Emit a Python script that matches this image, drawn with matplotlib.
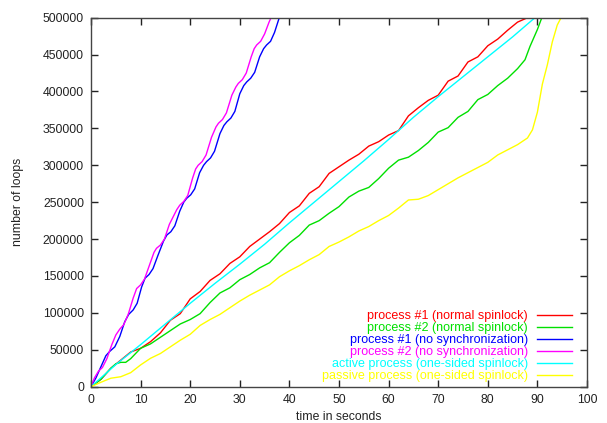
import matplotlib
matplotlib.use("Agg")
import matplotlib.pyplot as plt

plt.rcParams['font.family'] = ['Liberation Sans', 'DejaVu Sans']

# process #1 (normal spinlock)
red_t = [0, 2, 4, 6, 8, 10, 12, 14, 16, 18, 20, 22, 24, 26, 28, 30, 32, 34, 36, 38, 40,
         42, 44, 46, 48, 50, 52, 54, 56, 58, 60, 62, 64, 66, 68, 70, 72, 74, 76, 78, 80,
         82, 84, 86, 88, 89]
red_v = [0, 10000, 25000, 36000, 47000, 52000, 61000, 73000, 90000, 99000, 119000, 129000,
         144000, 153000, 167000, 176000, 190000, 200000, 210000, 221000, 236000, 245000,
         262000, 271000, 289000, 298000, 307000, 315000, 326000, 332000, 341000, 347000,
         367000, 378000, 388000, 395000, 414000, 421000, 440000, 447000, 462000, 471000,
         483000, 494000, 500000, 503000]

# process #2 (normal spinlock)
green_t = [0, 2, 4, 5, 6, 7, 8, 10, 12, 14, 16, 18, 20, 22, 24, 26, 28, 30, 32, 34, 36,
           38, 40, 42, 44, 46, 48, 50, 52, 54, 56, 58, 60, 62, 64, 66, 68, 70, 72, 74, 76,
           78, 80, 82, 84, 86, 87.5, 88.5, 90, 91]
green_v = [0, 10000, 25000, 31000, 33000, 33000, 38000, 52000, 58000, 67000, 76000, 85000,
           91000, 99000, 114000, 127000, 134000, 145000, 152000, 161000, 168000, 182000,
           195000, 205000, 219000, 225000, 235000, 244000, 257000, 265000, 270000, 282000,
           296000, 307000, 311000, 320000, 331000, 345000, 351000, 365000, 373000, 389000,
           396000, 408000, 418000, 431000, 443000, 461000, 484000, 502000]

# process #1 (no synchronization)
blue_t = [0, 1.0, 2.0, 3.0, 3.8, 4.8, 5.8, 6.8, 7.6, 8.5, 9.3, 10.2, 10.9, 11.7, 12.5,
          13.5, 14.6, 15.3, 16.1, 16.9, 17.9, 18.7, 19.3, 20.1, 20.9, 21.9, 22.7, 23.3,
          24.1, 24.9, 26.0, 26.8, 27.4, 28.2, 29.0, 30.0, 30.8, 31.4, 32.2, 33.0, 34.0,
          34.8, 35.4, 36.2, 37.0, 38.1]
blue_v = [0, 12000, 27000, 42000, 48000, 54000, 68000, 88000, 98000, 104000, 113000,
          135000, 147000, 152000, 160000, 178000, 197000, 205600, 210000, 218000, 238000,
          250000, 255300, 260000, 268000, 290000, 300000, 305000, 310000, 319000, 343000,
          354000, 359000, 364000, 373000, 397000, 408000, 413000, 418000, 426000, 447000,
          458000, 463000, 468000, 480000, 503000]

# process #2 (no synchronization)
mag_t = [0, 0.7, 1.5, 2.3, 3.2, 4.2, 5.0, 5.8, 6.6, 7.5, 8.5, 9.2, 10.0, 10.8, 11.8,
         12.7, 13.2, 14.0, 14.8, 15.8, 17.3, 17.9, 18.7, 19.5, 20.5, 21.1, 21.6, 22.4,
         23.2, 24.3, 25.2, 25.7, 26.5, 27.3, 28.4, 29.2, 29.7, 30.5, 31.3, 32.3, 32.9,
         33.4, 34.2, 35.0, 35.9, 36.5]
mag_v = [0, 12000, 21000, 26000, 38000, 57000, 70000, 78000, 84000, 98000, 120000,
         133000, 138000, 146000, 165000, 182000, 187500, 192000, 200000, 220000, 240000,
         246000, 251000, 259000, 283000, 295000, 300000, 305000, 314000, 338000, 352000,
         357000, 362000, 371000, 395000, 406000, 411000, 416000, 425000, 447000, 458000,
         463000, 468000, 478000, 494000, 503000]

# active process (one-sided spinlock)
cyan_t = [0, 5, 10, 15, 20, 25, 30, 35, 40, 45, 50, 55, 60, 65, 70, 75, 80, 85, 89.5, 90]
cyan_v = [0, 30000, 57000, 85000, 113000, 140000, 166000, 193000, 222000, 250000, 278000,
          306000, 335000, 365000, 393000, 420000, 447000, 474000, 500000, 503000]

# passive process (one-sided spinlock)
yel_t = [0, 2, 4, 6, 8, 10, 12, 14, 16, 18, 20, 22, 24, 26, 28, 30, 32, 34, 36, 38, 40,
         42, 44, 46, 48, 50, 52, 54, 56, 58, 60, 62, 64, 66, 68, 70, 72, 74, 76, 78, 80,
         82, 84, 86, 88, 89, 90, 91, 92, 93, 94, 95]
yel_v = [0, 6000, 11500, 13500, 19000, 29500, 38500, 45000, 54000, 63000, 71000, 83000,
         91000, 98000, 107000, 116000, 124000, 131000, 138000, 149000, 157000, 164000,
         172000, 179000, 190000, 196000, 203000, 211000, 217000, 225000, 232000, 242000,
         253000, 254000, 259000, 267000, 275000, 283000, 290000, 297000, 304000, 314000,
         321000, 328000, 337000, 348000, 372000, 410000, 436000, 467000, 490000, 503000]

series = [
    (red_t, red_v, "#ff0000", "process #1 (normal spinlock)"),
    (green_t, green_v, "#00e000", "process #2 (normal spinlock)"),
    (blue_t, blue_v, "#0000ff", "process #1 (no synchronization)"),
    (mag_t, mag_v, "#ff00ff", "process #2 (no synchronization)"),
    (cyan_t, cyan_v, "#00ffff", "active process (one-sided spinlock)"),
    (yel_t, yel_v, "#ffff00", "passive process (one-sided spinlock)"),
]

fig = plt.figure(figsize=(6.07, 4.23), dpi=100)
ax = fig.add_axes([91 / 607, 1 - 386.7 / 423, 496 / 607, 369 / 423])

for t, v, color, label in series:
    ax.plot(t, v, color=color, linewidth=1.0, label=label)

ax.set_xlim(0, 100)
ax.set_ylim(0, 500000)
ax.set_xticks(range(0, 101, 10))
ax.set_yticks(range(0, 500001, 50000))
ax.tick_params(direction="in", length=5, width=1, top=True, right=True,
               labelsize=8.8, colors="#222222", pad=5)
for sp in ax.spines.values():
    sp.set_color("#444444")
    sp.set_linewidth(1.0)

ax.set_xlabel("time in seconds", fontsize=8.8, color="#222222", va="center")
ax.xaxis.set_label_coords(0.5, -0.082)
ax.set_ylabel("number of loops", fontsize=8.8, color="#222222", va="center")
ax.yaxis.set_label_coords(-0.147, 0.5)

ax.legend(loc="lower right", bbox_to_anchor=(0.97, 0.012), frameon=False,
          markerfirst=False, labelcolor="linecolor", fontsize=9.0,
          handlelength=2.8, handletextpad=0.75, labelspacing=0.0, borderpad=0,
          borderaxespad=0)

fig.savefig("out.png", dpi=100)
